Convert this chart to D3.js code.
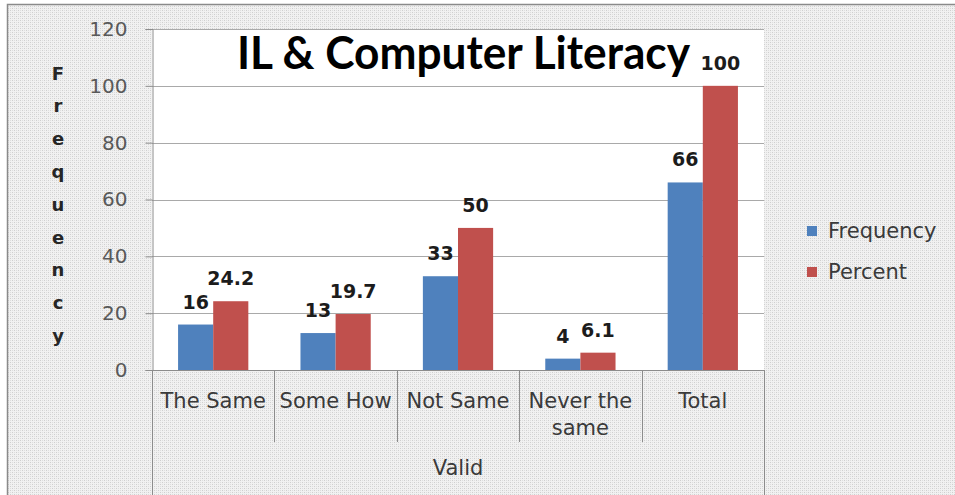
<!DOCTYPE html>
<html>
<head>
<meta charset="utf-8">
<script src="https://cdn.jsdelivr.net/npm/d3@7"></script>
<style>
  html, body { margin: 0; padding: 0; background: #ffffff; }
  svg { display: block; }
</style>
</head>
<body>
<svg id="chart" width="955" height="495"></svg>
<script>
// ---- data ----
const categories = ["The Same", "Some How", "Not Same", "Never the same", "Total"];
const seriesNames = ["Frequency", "Percent"];
const frequency = [16, 13, 33, 4, 66];
const percent = [24.2, 19.7, 50, 6.1, 100];
const frequencyLabels = ["16", "13", "33", "4", "66"];
const percentLabels = ["24.2", "19.7", "50", "6.1", "100"];
const yTicks = [0, 20, 40, 60, 80, 100, 120];
const groupLabel = "Valid";
const chartTitle = "IL & Computer Literacy";
const yTitle = "Frequency";

// ---- styles / layout ----
const W = 955, H = 495;
const colors = { Frequency: "#4F81BD", Percent: "#C0504D" };
const plot = { left: 152, right: 764, top: 29, bottom: 370 };
const textFont = "'DejaVu Sans', Verdana, sans-serif";
const textSize = "21px";
const textColor = "#3a3a3a";

const svg = d3.select("#chart");

// background stipple pattern
const defs = svg.append("defs");
const pat = defs.append("pattern").attr("id", "stipple")
  .attr("width", 4).attr("height", 4).attr("patternUnits", "userSpaceOnUse");
pat.append("rect").attr("width", 4).attr("height", 4).attr("fill", "#f1f1f1");
pat.append("rect").attr("x", 0).attr("y", 0).attr("width", 1).attr("height", 1).attr("fill", "#cfcfcf");
pat.append("rect").attr("x", 2).attr("y", 2).attr("width", 1).attr("height", 1).attr("fill", "#cfcfcf");
pat.append("rect").attr("x", 2).attr("y", 0).attr("width", 1).attr("height", 1).attr("fill", "#dedede");
pat.append("rect").attr("x", 0).attr("y", 2).attr("width", 1).attr("height", 1).attr("fill", "#dedede");

svg.append("rect").attr("x", 0).attr("y", 0).attr("width", W).attr("height", H).attr("fill", "#ffffff");
svg.append("rect").attr("x", 7.5).attr("y", 4.5).attr("width", W + 10).attr("height", H + 10)
  .attr("fill", "url(#stipple)").attr("stroke", "#8a8a8a").attr("stroke-width", 1.5);

// plot area
svg.append("rect").attr("x", plot.left).attr("y", plot.top)
  .attr("width", plot.right - plot.left).attr("height", plot.bottom - plot.top)
  .attr("fill", "#ffffff");

// scales
const y = d3.scaleLinear().domain([0, 120]).range([plot.bottom, plot.top]);
const x = d3.scaleBand().domain(categories).range([plot.left, plot.right]).paddingInner(0).paddingOuter(0);
const bw = x.bandwidth();
const xs = d3.scaleBand().domain(seriesNames).range([bw * 0.213, bw * 0.787]).padding(0);

// gridlines
svg.append("g").selectAll("line").data(yTicks.filter(d => d > 0)).join("line")
  .attr("x1", plot.left).attr("x2", plot.right)
  .attr("y1", d => Math.round(y(d)) + 0.5).attr("y2", d => Math.round(y(d)) + 0.5)
  .attr("stroke", "#a9a9a9").attr("stroke-width", 1);

// y axis
const yAxis = d3.axisLeft(y).tickValues(yTicks).tickSize(7).tickPadding(18).tickFormat(d3.format("d"));
const gy = svg.append("g").attr("transform", `translate(${plot.left + 0.5},0)`).call(yAxis);
gy.select(".domain").attr("stroke", "#8c8c8c");
gy.selectAll(".tick line").attr("stroke", "#8c8c8c");
gy.selectAll(".tick text").attr("fill", "#595959").style("font-family", textFont).style("font-size", "20px");

// bars
const rows = categories.map((c, i) => ({ cat: c, values: [
  { s: "Frequency", v: frequency[i], label: frequencyLabels[i] },
  { s: "Percent", v: percent[i], label: percentLabels[i] }
]}));

const groups = svg.append("g").selectAll("g").data(rows).join("g")
  .attr("transform", d => `translate(${x(d.cat)},0)`);
groups.selectAll("rect").data(d => d.values).join("rect")
  .attr("x", d => xs(d.s)).attr("width", xs.bandwidth())
  .attr("y", d => y(d.v)).attr("height", d => y(0) - y(d.v))
  .attr("fill", d => colors[d.s]);
groups.selectAll("text").data(d => d.values).join("text")
  .attr("x", d => xs(d.s) + xs.bandwidth() / 2)
  .attr("y", d => y(d.v) - 16)
  .attr("text-anchor", "middle")
  .style("font-family", textFont).style("font-size", "19px").style("font-weight", "bold")
  .attr("fill", "#1c1c1c")
  .text(d => d.label);

// x axis line
svg.append("line").attr("x1", plot.left).attr("x2", plot.right)
  .attr("y1", plot.bottom + 0.5).attr("y2", plot.bottom + 0.5).attr("stroke", "#8c8c8c");

// category dividers
const bounds = categories.map(c => x(c)).concat([plot.right]);
svg.append("g").selectAll("line").data(bounds).join("line")
  .attr("x1", d => Math.round(d) + 0.5).attr("x2", d => Math.round(d) + 0.5)
  .attr("y1", plot.bottom)
  .attr("y2", (d, i) => (i === 0 || i === bounds.length - 1) ? H : 442)
  .attr("stroke", "#8c8c8c").attr("stroke-width", 1);

// category labels (wrapped)
const catText = svg.append("g").selectAll("text").data(categories).join("text")
  .attr("text-anchor", "middle")
  .style("font-family", textFont).style("font-size", textSize)
  .attr("fill", textColor);
catText.each(function(c) {
  const t = d3.select(this);
  const cx = x(c) + bw / 2;
  const words = c.split(" ");
  let lines = [], line = [];
  const probe = t.append("tspan");
  words.forEach(w => {
    const trial = line.concat([w]).join(" ");
    probe.text(trial);
    if (probe.node().getComputedTextLength() > bw - 4 && line.length) {
      lines.push(line.join(" "));
      line = [w];
    } else line.push(w);
  });
  lines.push(line.join(" "));
  probe.remove();
  lines.forEach((l, i) => {
    t.append("tspan").attr("x", cx).attr("y", 408 + i * 27).text(l);
  });
});

// group label
svg.append("text").attr("x", (plot.left + plot.right) / 2).attr("y", 475)
  .attr("text-anchor", "middle")
  .style("font-family", textFont).style("font-size", textSize)
  .attr("fill", textColor).text(groupLabel);

// title
svg.append("text").attr("x", 237).attr("y", 69)
  .attr("textLength", 453).attr("lengthAdjust", "spacingAndGlyphs")
  .style("font-family", "Lato, 'Open Sans', sans-serif").style("font-size", "45px").style("font-weight", "bold")
  .attr("fill", "#000000").text(chartTitle);

// vertical stacked y title
svg.append("g").selectAll("text").data(yTitle.split("")).join("text")
  .attr("x", 58).attr("y", (d, i) => 73 + i * 32.8)
  .attr("text-anchor", "middle").attr("dominant-baseline", "central")
  .style("font-family", textFont).style("font-size", "18px").style("font-weight", "bold")
  .attr("fill", "#262626").text(d => d);

// legend
const legend = svg.append("g").selectAll("g").data(seriesNames).join("g")
  .attr("transform", (d, i) => `translate(807,${226 + i * 41})`);
legend.append("rect").attr("width", 10).attr("height", 10).attr("fill", d => colors[d]);
legend.append("text").attr("x", 21).attr("y", 5).attr("dominant-baseline", "central")
  .style("font-family", textFont).style("font-size", textSize)
  .attr("fill", textColor).text(d => d);
</script>
</body>
</html>
